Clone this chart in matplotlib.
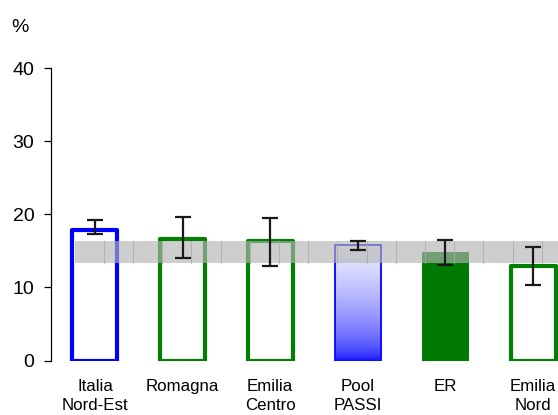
import numpy as np
import matplotlib.pyplot as plt

plt.rcParams['font.family'] = ['Liberation Sans', 'DejaVu Sans']

labels = ['Italia\nNord-Est', 'Romagna', 'Emilia\nCentro', 'Pool\nPASSI', 'ER', 'Emilia\nNord']
values = [17.9, 16.6, 16.3, 15.8, 14.9, 12.9]
err_low = [17.3, 14.0, 12.9, 15.1, 13.1, 10.4]
err_high = [19.3, 19.6, 19.5, 16.4, 16.5, 15.5]
styles = ['blue', 'green', 'green', 'gradient', 'solid', 'green']
band_low, band_high = 13.3, 16.4

fig = plt.figure(figsize=(5.58, 4.15), dpi=100)
ax = fig.add_axes([51 / 558, 0.1313, 1 - 51 / 558, 0.8354 - 0.1313])

x = np.arange(len(values))
w = 0.514

for i, (v, s) in enumerate(zip(values, styles)):
    if s == 'blue':
        ax.bar(i, v, w, facecolor='white', edgecolor='#0000ff', linewidth=3, joinstyle='round', zorder=2)
    elif s == 'green':
        ax.bar(i, v, w, facecolor='white', edgecolor='#008000', linewidth=3, joinstyle='round', zorder=2)
    elif s == 'solid':
        ax.bar(i, v, 0.53, facecolor='#007a00', edgecolor='none', zorder=2)
    else:
        wg = 0.53
        g = np.linspace(0, 1, 256)
        cols = np.zeros((256, 1, 3))
        cols[:, 0, 0] = 0.95 * (1 - g) ** 0.5
        cols[:, 0, 1] = 0.95 * (1 - g) ** 0.5
        cols[:, 0, 2] = 1.0
        ax.imshow(cols, extent=[i - wg / 2, i + wg / 2, 0, v], origin='upper',
                  aspect='auto', zorder=2)
        ax.bar(i, v, wg, facecolor='none', edgecolor='#1010ff', linewidth=1.4, zorder=2.1)

# grey confidence band over the bars
ax.axhspan(band_low, band_high, xmin=(-0.23 + 0.502) / 5.787, xmax=1,
           facecolor='#b4b4b4', alpha=0.65, edgecolor='none', zorder=3)
for xl in np.arange(0.1, 5.3, 1 / 3):
    ax.plot([xl, xl], [band_low, band_high], color='#a8a8a8', lw=0.8, alpha=0.7, zorder=3.1)

lo = np.array(values) - np.array(err_low)
hi = np.array(err_high) - np.array(values)
ax.errorbar(x, values, yerr=[lo, hi], fmt='none', ecolor='#1a1a1a',
            elinewidth=1.6, capsize=5.8, capthick=1.6, zorder=4)

ax.set_xlim(-0.502, 5.285)
ax.set_ylim(0, 40)
ax.set_yticks([0, 10, 20, 30, 40])
ax.set_xticks(x)
ax.set_xticklabels(labels, fontsize=12.2, linespacing=1.4)
ax.tick_params(axis='x', length=0, pad=13)
ax.tick_params(axis='y', length=5, width=0.9, pad=7, labelsize=14)
for sp in ['top', 'right', 'bottom']:
    ax.spines[sp].set_visible(False)
ax.spines['left'].set_linewidth(0.9)
ax.spines['left'].set_bounds(0, 40)

fig.text(20 / 558, 1 - 27 / 415, '%', fontsize=14, ha='center', va='center')

fig.savefig('out.png', dpi=100)
